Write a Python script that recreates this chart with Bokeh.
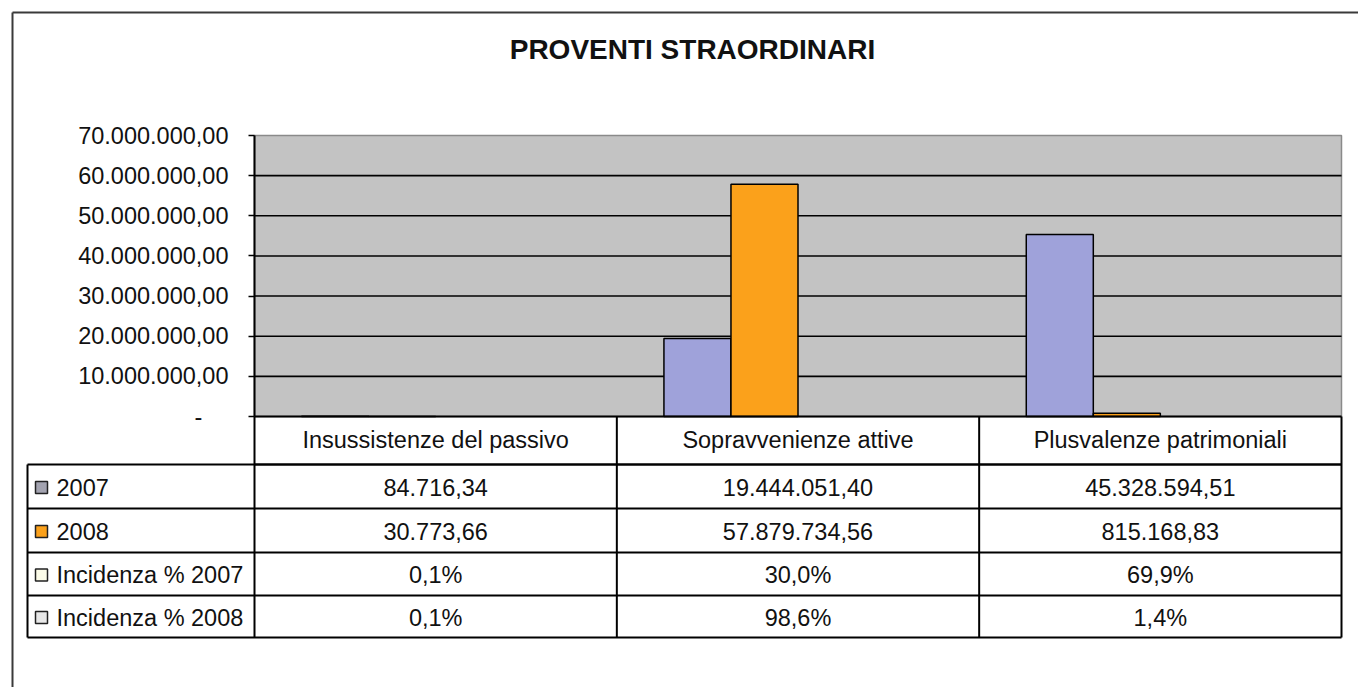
from bokeh.plotting import figure
from bokeh.models import (Range1d, FixedTicker, CustomJSTickFormatter, LinearAxis,
                          ColumnDataSource)
from bokeh.core.properties import value
from bokeh.embed import file_html
from bokeh.resources import INLINE

# ---------------- data ----------------
categories = ["Insussistenze del passivo", "Sopravvenienze attive", "Plusvalenze patrimoniali"]
values_2007 = [84716.34, 19444051.40, 45328594.51]
values_2008 = [30773.66, 57879734.56, 815168.83]
incidenza_2007 = [0.1, 30.0, 69.9]
incidenza_2008 = [0.1, 98.6, 1.4]
row_labels = ["2007", "2008", "Incidenza % 2007", "Incidenza % 2008"]
y_ticks = [0, 10000000, 20000000, 30000000, 40000000, 50000000, 60000000, 70000000]
title_text = "PROVENTI STRAORDINARI"

# ---------------- styles / layout ----------------
FONT = "Liberation Sans"
FS = "23.5px"
TXT = "#111111"
C2007 = "#9fa2da"
C2008 = "#fba11b"
SWATCH = ["#a3a3b0", C2008, "#fbfbe8", "#e8e8e8"]
BG = "#c3c3c3"

W, H = 1358, 687
PL, PR, PT, PB = 254, 1341, 135, 416      # plot area in page pixels
ncat = len(categories)
ymax = y_ticks[-1]
ppu_y = (PB - PT) / ymax
ppu_x = (PR - PL) / ncat
x_range = Range1d(-PL / ppu_x, ncat + (W - PR) / ppu_x)
y_range = Range1d(-(H - PB) / ppu_y, ymax + PT / ppu_y)


def fmt_it(v):
    s = f"{v:,.2f}"
    return s.replace(",", "X").replace(".", ",").replace("X", ".")


def fmt_pct(v):
    return f"{v:.1f}".replace(".", ",") + "%"


p = figure(width=W, height=H, output_backend="svg", toolbar_location=None,
           x_range=x_range, y_range=y_range, x_axis_type=None, y_axis_type=None,
           min_border=0)
p.extra_x_ranges = {"px": Range1d(0, W)}
p.extra_y_ranges = {"px": Range1d(H, 0)}
p.background_fill_color = "white"
p.border_fill_color = "white"
p.outline_line_color = None

cat_pos = [i + 0.5 for i in range(ncat)]

# plot area background
p.quad(left=0, right=ncat, bottom=0, top=ymax, fill_color=BG, line_color="#8a8a8a",
       line_width=1.5)
# horizontal gridlines at the tick values
grid_vals = y_ticks[1:-1]
p.segment(x0=[0] * len(grid_vals), x1=[ncat] * len(grid_vals), y0=grid_vals, y1=grid_vals,
          line_color="black", line_width=1.6)

# bars (4 series slots per category as in the original; incidence series have ~0 height)
BW = 0.185
src = ColumnDataSource(dict(x07=[c - 1.5 * BW for c in cat_pos],
                            x08=[c - 0.5 * BW for c in cat_pos],
                            v2007=values_2007, v2008=values_2008))
p.vbar(x="x07", top="v2007", width=BW, source=src, fill_color=C2007,
       line_color="black", line_width=1.5)
p.vbar(x="x08", top="v2008", width=BW, source=src, fill_color=C2008,
       line_color="black", line_width=1.5)

# y axis
yaxis = LinearAxis(fixed_location=0, bounds=(0, ymax), ticker=FixedTicker(ticks=y_ticks),
                   formatter=CustomJSTickFormatter(code="""
if (Math.abs(tick) < 1) { return "-\\u00a0\\u00a0\\u00a0\\u00a0"; }
const s = Math.round(tick).toString().replace(/\\B(?=(\\d{3})+(?!\\d))/g, ".");
return s + ",00";
"""))
yaxis.axis_line_color = "black"
yaxis.axis_line_width = 2
yaxis.major_tick_out = 6
yaxis.major_tick_in = 0
yaxis.major_tick_line_color = "black"
yaxis.major_tick_line_width = 1.5
yaxis.minor_tick_line_color = None
yaxis.major_label_standoff = 20
yaxis.major_label_text_font = FONT
yaxis.major_label_text_font_size = FS
yaxis.major_label_text_color = TXT
p.add_layout(yaxis, "left")

# x axis (header row of the table)
xaxis = LinearAxis(fixed_location=0, bounds=(0, ncat), ticker=FixedTicker(ticks=cat_pos),
                   formatter=CustomJSTickFormatter(args=dict(cats=categories),
                                                   code="return cats[Math.floor(tick)];"))
xaxis.axis_line_color = "black"
xaxis.axis_line_width = 2
xaxis.major_tick_line_color = None
xaxis.minor_tick_line_color = None
xaxis.major_label_standoff = 4
xaxis.major_label_text_font = FONT
xaxis.major_label_text_font_size = FS
xaxis.major_label_text_color = TXT
p.add_layout(xaxis, "below")

# ---------------- outer border & title ----------------
p.segment(x0=[12, 12], y0=[12, 12], x1=[W + 10, 12], y1=[12, H + 10],
          x_range_name="px", y_range_name="px", line_color="#3a3a3a", line_width=2)
p.text(x=[692], y=[49], text=[title_text], x_range_name="px", y_range_name="px",
       text_align="center", text_baseline="middle", text_font=value(FONT),
       text_font_size=value("28px"), text_font_style="bold", text_color=TXT)

# ---------------- data table ----------------
LEFT = 27
row_y = [PB, 464, 508, 552, 595, 637]
col_x = [PL + i * ppu_x for i in range(ncat + 1)]

# horizontal lines
hx0 = [PL] + [LEFT] * 5
hy = [row_y[1]] + row_y[1:]
p.segment(x0=hx0, x1=[PR] * len(hx0), y0=hy, y1=hy, x_range_name="px", y_range_name="px",
          line_color="black", line_width=2)
# vertical lines
vx = [LEFT] + col_x
vy0 = [row_y[1]] + [row_y[0]] * len(col_x)
p.segment(x0=vx, x1=vx, y0=vy0, y1=[row_y[-1]] * len(vx), x_range_name="px",
          y_range_name="px", line_color="black", line_width=2)

table_rows = [[fmt_it(v) for v in values_2007],
              [fmt_it(v) for v in values_2008],
              [fmt_pct(v) for v in incidenza_2007],
              [fmt_pct(v) for v in incidenza_2008]]

row_c = [(row_y[r + 1] + row_y[r + 2]) / 2 + 1 for r in range(4)]

# legend swatches and labels
p.quad(left=[35] * 4, right=[47] * 4, top=[c - 6 for c in row_c], bottom=[c + 6 for c in row_c],
       x_range_name="px", y_range_name="px", fill_color=SWATCH, line_color="#222222",
       line_width=1.5)
p.text(x=[56] * 4, y=row_c, text=row_labels, x_range_name="px", y_range_name="px",
       text_align="left", text_baseline="middle", text_font=value(FONT),
       text_font_size=value(FS), text_color=TXT)

# values, positioned through the category scale
tx, ty, tt = [], [], []
for r in range(4):
    for c in range(ncat):
        tx.append(cat_pos[c])
        ty.append(row_c[r])
        tt.append(table_rows[r][c])
p.text(x=tx, y=ty, text=tt, y_range_name="px", text_align="center", text_baseline="middle",
       text_font=value(FONT), text_font_size=value(FS), text_color=TXT)

open("out.html", "w").write(file_html(p, INLINE))
